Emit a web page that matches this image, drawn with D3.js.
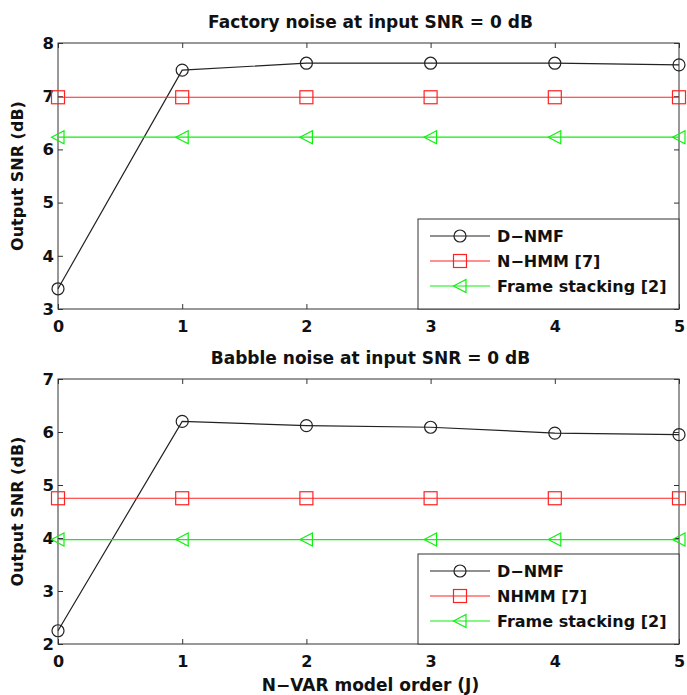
<!DOCTYPE html>
<html>
<head>
<meta charset="UTF-8">
<style>
  body, html { margin: 0; background: #fff; }
  svg text { font-family: "DejaVu Sans", "Liberation Sans", Arial, sans-serif; font-weight: bold; }
</style>
<script src="https://d3js.org/d3.v7.min.js"></script>
</head>
<body>
<svg id="chart" width="687" height="695"></svg>
<script>
const orders = [0, 1, 2, 3, 4, 5];

// factory noise panel
const factoryDNMF = [3.38, 7.49, 7.62, 7.62, 7.62, 7.59];
const factoryNHMM = [6.98, 6.98, 6.98, 6.98, 6.98, 6.98];
const factoryStack = [6.23, 6.23, 6.23, 6.23, 6.23, 6.23];

// babble noise panel
const babbleDNMF = [2.25, 6.20, 6.12, 6.09, 5.98, 5.95];
const babbleNHMM = [4.75, 4.75, 4.75, 4.75, 4.75, 4.75];
const babbleStack = [3.97, 3.97, 3.97, 3.97, 3.97, 3.97];

const panels = [
  { title: "Factory noise at input SNR = 0 dB", top: 43, bottom: 309, yDomain: [3, 8],
    series: [
      { name: "D\u2212NMF", values: factoryDNMF, color: "#222", marker: "circle" },
      { name: "N\u2212HMM [7]", values: factoryNHMM, color: "#f22", marker: "square" },
      { name: "Frame stacking [2]", values: factoryStack, color: "#1e1", marker: "triangle" }
    ] },
  { title: "Babble noise at input SNR = 0 dB", top: 379, bottom: 644, yDomain: [2, 7],
    series: [
      { name: "D\u2212NMF", values: babbleDNMF, color: "#222", marker: "circle" },
      { name: "NHMM [7]", values: babbleNHMM, color: "#f22", marker: "square" },
      { name: "Frame stacking [2]", values: babbleStack, color: "#1e1", marker: "triangle" }
    ] }
];

const svg = d3.select("#chart");
const left = 58, right = 679;

const x = d3.scaleLinear().domain([0, 5]).range([left, right]);

function drawMarker(g, type, cx, cy, color) {
  if (type === "circle") {
    g.append("circle").attr("cx", cx).attr("cy", cy).attr("r", 6)
      .attr("fill", "none").attr("stroke", color).attr("stroke-width", 1.2);
  } else if (type === "square") {
    g.append("rect").attr("x", cx - 6.5).attr("y", cy - 6.5).attr("width", 13).attr("height", 13)
      .attr("fill", "none").attr("stroke", color).attr("stroke-width", 1.2);
  } else {
    g.append("path").attr("d", `M${cx - 6.5},${cy} L${cx + 6},${cy - 6.5} L${cx + 6},${cy + 6.5} Z`)
      .attr("fill", "none").attr("stroke", color).attr("stroke-width", 1.2);
  }
}

panels.forEach(p => {
  const y = d3.scaleLinear().domain(p.yDomain).range([p.bottom, p.top]);
  const g = svg.append("g");

  // axes box
  g.append("rect").attr("x", left).attr("y", p.top)
    .attr("width", right - left).attr("height", p.bottom - p.top)
    .attr("fill", "none").attr("stroke", "#333").attr("stroke-width", 1);

  // ticks inward on all sides
  const yTicks = d3.range(p.yDomain[0], p.yDomain[1] + 1);
  g.append("g").attr("transform", `translate(${left},0)`)
    .call(d3.axisLeft(y).tickValues(yTicks).tickSize(-5).tickPadding(4).tickFormat(d3.format("d")))
    .call(a => a.select(".domain").remove())
    .call(a => a.selectAll("line").attr("stroke", "#333"))
    .call(a => a.selectAll("text").attr("font-size", 16.5).attr("fill", "#111"));
  g.append("g").attr("transform", `translate(${right},0)`)
    .call(d3.axisRight(y).tickValues(yTicks).tickSize(-5).tickFormat(""))
    .call(a => a.select(".domain").remove())
    .call(a => a.selectAll("line").attr("stroke", "#333"));
  g.append("g").attr("transform", `translate(0,${p.bottom})`)
    .call(d3.axisBottom(x).tickValues(orders).tickSize(-5).tickPadding(12).tickFormat(d3.format("d")))
    .call(a => a.select(".domain").remove())
    .call(a => a.selectAll("line").attr("stroke", "#333"))
    .call(a => a.selectAll("text").attr("font-size", 16).attr("fill", "#111"));
  g.append("g").attr("transform", `translate(0,${p.top})`)
    .call(d3.axisTop(x).tickValues(orders).tickSize(-5).tickFormat(""))
    .call(a => a.select(".domain").remove())
    .call(a => a.selectAll("line").attr("stroke", "#333"));

  // title
  g.append("text").attr("x", (left + right) / 2 + 2).attr("y", p.top - 15)
    .attr("text-anchor", "middle").attr("font-size", 17).attr("fill", "#111").text(p.title);

  // y label
  g.append("text").attr("transform", `translate(23,${(p.top + p.bottom) / 2}) rotate(-90)`)
    .attr("text-anchor", "middle").attr("font-size", 16).attr("fill", "#111").text("Output SNR (dB)");

  const line = d3.line().x((d, i) => x(orders[i])).y(d => y(d));
  p.series.forEach(s => {
    g.append("path").datum(s.values).attr("d", line)
      .attr("fill", "none").attr("stroke", s.color).attr("stroke-width", 1.2);
    s.values.forEach((v, i) => drawMarker(g, s.marker, x(orders[i]), y(v), s.color));
  });

  // legend
  const lg = g.append("g");
  const lx = 418, lw = right - lx, lh = 90;
  const ly = p.bottom - lh;
  lg.append("rect").attr("x", lx).attr("y", ly).attr("width", lw).attr("height", lh)
    .attr("fill", "#fff").attr("stroke", "#333").attr("stroke-width", 1);
  p.series.forEach((s, i) => {
    const yy = ly + 17 + i * 25;
    lg.append("line").attr("x1", lx + 12).attr("x2", lx + 72).attr("y1", yy).attr("y2", yy)
      .attr("stroke", s.color).attr("stroke-width", 1.2);
    drawMarker(lg, s.marker, lx + 42, yy, s.color);
    lg.append("text").attr("x", lx + 79).attr("y", yy + 6)
      .attr("font-size", 16).attr("fill", "#111").text(s.name);
  });
});

// x label
svg.append("text").attr("x", (left + right) / 2 + 2).attr("y", 691)
  .attr("text-anchor", "middle").attr("font-size", 17).attr("fill", "#111")
  .text("N\u2212VAR model order (J)");
</script>
</body>
</html>
